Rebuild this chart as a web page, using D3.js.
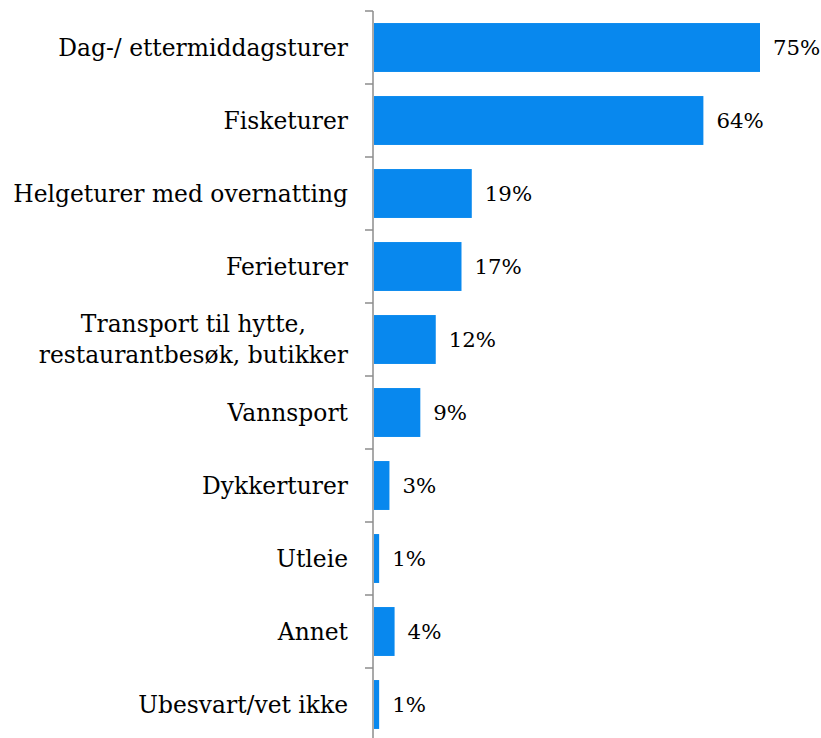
<!DOCTYPE html>
<html>
<head>
<meta charset="utf-8">
<script src="https://cdn.jsdelivr.net/npm/d3@7"></script>
<style>
  body { margin: 0; background: #fff; }
  svg { display: block; }
</style>
</head>
<body>
<div id="chart"></div>
<script>
// --- data ---
const categories = [
    ["Dag-/ ettermiddagsturer"],
    ["Fisketurer"],
    ["Helgeturer med overnatting"],
    ["Ferieturer"],
    ["Transport til hytte,", "restaurantbesøk, butikker"],
    ["Vannsport"],
    ["Dykkerturer"],
    ["Utleie"],
    ["Annet"],
    ["Ubesvart/vet ikke"]
];
const values = [75, 64, 19, 17, 12, 9, 3, 1, 4, 1];
const valueLabels = ["75%", "64%", "19%", "17%", "12%", "9%", "3%", "1%", "4%", "1%"];

const width = 821, height = 738;
const axisX = 373;
const labelRight = 348;
const font = "'DejaVu Serif', serif";
const labelSize = 23.4;
const valueSize = 21.3;

const svg = d3.select("#chart").append("svg")
    .attr("width", width)
    .attr("height", height);

const y = d3.scaleBand()
    .domain(d3.range(categories.length))
    .range([11, 741])
    .paddingInner(0.33)
    .paddingOuter(0.165);

const x = d3.scaleLinear().domain([0, 75]).range([axisX + 1, 760]);

// bars
svg.append("g").selectAll("rect")
    .data(values)
    .join("rect")
    .attr("x", x(0))
    .attr("y", (d, i) => y(i))
    .attr("width", d => x(d) - x(0))
    .attr("height", y.bandwidth())
    .attr("fill", "#0888ee");

// value labels
svg.append("g").selectAll("text")
    .data(values)
    .join("text")
    .attr("x", d => x(d) + 13)
    .attr("y", (d, i) => y(i) + y.bandwidth() / 2)
    .attr("dy", "0.36em")
    .attr("font-family", font)
    .attr("font-size", valueSize + "px")
    .attr("fill", "#000")
    .text((d, i) => valueLabels[i]);

// category axis
const step = 73;
const ticks = d3.range(categories.length + 1).map(i => 11 + i * step);
svg.append("line")
    .attr("x1", axisX).attr("x2", axisX)
    .attr("y1", 11).attr("y2", height)
    .attr("stroke", "#8c8c8c").attr("stroke-width", 1.5);
svg.append("g").selectAll("line")
    .data(ticks)
    .join("line")
    .attr("x1", axisX - 8).attr("x2", axisX)
    .attr("y1", d => d).attr("y2", d => d)
    .attr("stroke", "#8c8c8c").attr("stroke-width", 1.5);

// category labels: block is right aligned, lines centred within it
const labels = svg.append("g").selectAll("text")
    .data(categories)
    .join("text")
    .attr("y", (d, i) => y(i) + y.bandwidth() / 2)
    .attr("font-family", font)
    .attr("font-size", labelSize + "px")
    .attr("fill", "#000");

labels.each(function(lines) {
    const t = d3.select(this);
    const lh = 31;
    const spans = lines.map((s, k) => t.append("tspan")
        .attr("dy", k === 0 ? (0.36 * labelSize - (lines.length - 1) * lh / 2) + "px" : lh + "px")
        .text(s));
    const maxW = d3.max(spans, s => s.node().getComputedTextLength());
    spans.forEach(s => {
        s.attr("x", labelRight - maxW / 2).attr("text-anchor", "middle");
    });
});
</script>
</body>
</html>
